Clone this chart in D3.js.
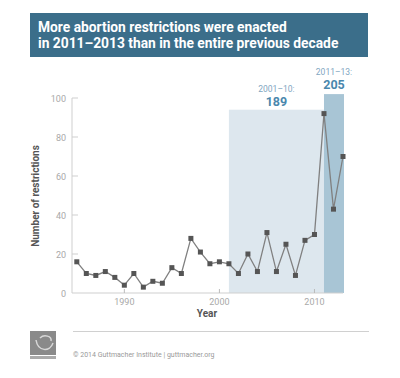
<!DOCTYPE html>
<html><head><meta charset="utf-8">
<script src="https://cdn.jsdelivr.net/npm/d3@7"></script>
<style>html,body{margin:0;padding:0;background:#fff;}svg{display:block;}</style>
</head><body>
<script>
const years = [1985,1986,1987,1988,1989,1990,1991,1992,1993,1994,1995,1996,1997,1998,1999,2000,2001,2002,2003,2004,2005,2006,2007,2008,2009,2010,2011,2012,2013];
const restrictions = [16,10,9,11,8,4,10,3,6,5,13,10,28,21,15,16,15,10,20,11,31,11,25,9,27,30,92,43,70];
const xTicks = [1990,2000,2010];
const yTicks = [0,20,40,60,80,100];
const periods = [
  {label:"2001–10:", total:"189", start:2001, end:2011, top:94},
  {label:"2011–13:", total:"205", start:2011, end:2013, top:102}
];
const titleLines = ["More abortion restrictions were enacted","in 2011–2013 than in the entire previous decade"];

const W=400,H=378;
const svg=d3.select("body").append("svg").attr("width",W).attr("height",H);
const font="Roboto, 'Open Sans', Arial, sans-serif";

// title banner
svg.append("rect").attr("x",30).attr("y",13).attr("width",338).attr("height",44).attr("fill","#3b6e8a");
svg.append("text").attr("x",38).attr("y",32).attr("fill","#fff").attr("font-family",font)
  .attr("font-weight","bold").attr("font-size",13.8)
  .selectAll("tspan").data(titleLines).join("tspan").attr("x",38).attr("dy",(d,i)=>i?16:0).text(d=>d);

const x=d3.scaleLinear().domain([1985,2013]).range([76.8,343]);
const y=d3.scaleLinear().domain([0,100]).range([293,98]);

// shaded periods
const fills=["#dde7ee","#a8c5d5"];
periods.forEach((p,i)=>{
  const x0=x(p.start), x1=i===1?x(p.end)+1:x(p.end);
  svg.append("rect").attr("x",x0).attr("y",y(p.top)).attr("width",x1-x0).attr("height",y(0)-y(p.top)).attr("fill",fills[i]);
  const cx=(x0+x1)/2;
  const top=y(p.top);
  svg.append("text").attr("x",cx).attr("y",i?top-19:top-18).attr("text-anchor","middle")
    .attr("font-family",font).attr("font-size",8.5).attr("fill","#7fa6bf").text(p.label);
  svg.append("text").attr("x",cx).attr("y",i?top-5:top-4).attr("text-anchor","middle")
    .attr("font-family",font).attr("font-weight","bold").attr("font-size",12.5).attr("fill","#4a87ad").text(p.total);
});

// axes
const axisColor="#cfcfcf";
svg.append("line").attr("x1",72).attr("x2",72).attr("y1",y(100)).attr("y2",y(0)).attr("stroke",axisColor);
svg.append("line").attr("x1",72).attr("x2",343).attr("y1",y(0)).attr("y2",y(0)).attr("stroke",axisColor);
yTicks.forEach(t=>{
  if(t>0) svg.append("line").attr("x1",72).attr("x2",78).attr("y1",y(t)).attr("y2",y(t)).attr("stroke",axisColor);
  svg.append("text").attr("x",66).attr("y",y(t)+3.5).attr("text-anchor","end").attr("font-family",font)
    .attr("font-size",9).attr("fill","#a9a9a9").text(t);
});
xTicks.forEach(t=>{
  svg.append("line").attr("x1",x(t)).attr("x2",x(t)).attr("y1",y(0)).attr("y2",y(0)-4).attr("stroke","#bbb");
  svg.append("text").attr("x",x(t)).attr("y",305).attr("text-anchor","middle").attr("font-family",font)
    .attr("font-size",9).attr("fill","#a9a9a9").text(t);
});
svg.append("text").attr("x",207).attr("y",317).attr("text-anchor","middle").attr("font-family",font)
  .attr("font-weight","bold").attr("font-size",10).attr("fill","#555").text("Year");
svg.append("text").attr("transform","translate(39,196) rotate(-90)").attr("text-anchor","middle").attr("font-family",font)
  .attr("font-weight","bold").attr("font-size",10).attr("fill","#555").text("Number of restrictions");

// line
const data=years.map((yr,i)=>({yr,v:restrictions[i]}));
svg.append("path").datum(data).attr("fill","none").attr("stroke","#808080").attr("stroke-width",1.3)
  .attr("d",d3.line().x(d=>x(d.yr)).y(d=>y(d.v)));
svg.selectAll("rect.pt").data(data).join("rect").attr("class","pt")
  .attr("x",d=>x(d.yr)-2.5).attr("y",d=>y(d.v)-2.5).attr("width",5).attr("height",5).attr("fill","#555");

// footer
svg.append("line").attr("x1",73).attr("x2",369).attr("y1",331.5).attr("y2",331.5).attr("stroke","#d0d0d0");
const logo=svg.append("g");
logo.append("rect").attr("x",30).attr("y",331).attr("width",26).attr("height",24).attr("fill","#8a8a8a");
logo.append("path").attr("d","M36,340 C38,352 50,352 53,343 M40,338 C44,334 52,336 51,341").attr("fill","none").attr("stroke","#d8d8d8").attr("stroke-width",1.5);
logo.append("rect").attr("x",30).attr("y",356).attr("width",26).attr("height",3).attr("fill","#aaa");
svg.append("text").attr("x",73).attr("y",357).attr("font-family",font).attr("font-size",7).attr("fill","#999")
  .text("© 2014 Guttmacher Institute   |   guttmacher.org");
</script>
</body></html>
